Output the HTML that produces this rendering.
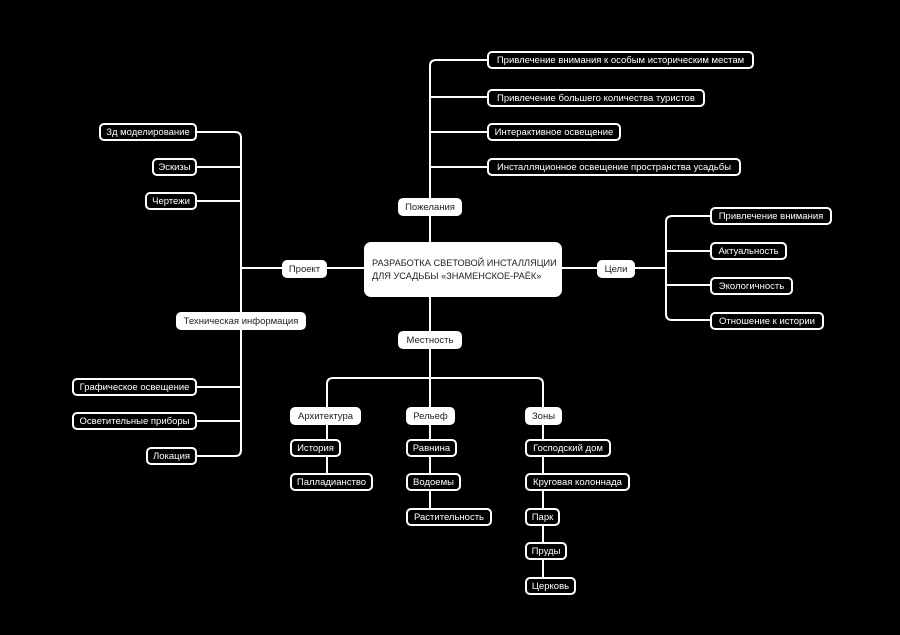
<!DOCTYPE html>
<html><head><meta charset="utf-8"><style>
html,body{margin:0;padding:0;background:#000;}
body{width:900px;height:635px;position:relative;overflow:hidden;font-family:"Liberation Sans","Noto Sans CJK SC",sans-serif;}
.n{position:absolute;box-sizing:border-box;height:18px;border:2px solid #fff;border-radius:5px;color:#fff;background:#000;font-size:9.5px;display:flex;align-items:center;justify-content:center;padding-top:1px;white-space:nowrap;}
.c{background:#fff;color:#222;}
svg{position:absolute;left:0;top:0;}
</style></head><body>
<svg width="900" height="635" fill="none" stroke="#fff" stroke-width="2">
<path d="M196 132 H235 Q241 132 241 138 V450 Q241 456 235 456 H196"/>
<path d="M196 167 H241 M196 201 H241 M196 387 H241 M196 421 H241"/>
<path d="M241 268 H364"/>
<path d="M430 242 V66 Q430 60 436 60 H488"/>
<path d="M430 97 H488 M430 132 H488 M430 167 H488"/>
<path d="M562 268 H666"/>
<path d="M710 216 H672 Q666 216 666 222 V314 Q666 320 672 320 H710"/>
<path d="M666 251 H710 M666 285 H710"/>
<path d="M430 296 V408"/>
<path d="M327 410 V384 Q327 378 333 378 H537 Q543 378 543 384 V410"/>
<path d="M327 420 V480 M430 420 V515 M543 420 V585"/>
</svg>

<div class="n" style="left:99px;top:123px;width:98px">Зд моделирование</div>
<div class="n" style="left:152px;top:158px;width:45px">Эскизы</div>
<div class="n" style="left:145px;top:192px;width:52px">Чертежи</div>
<div class="n c" style="left:282px;top:260px;width:45px">Проект</div>
<div class="n c" style="left:176px;top:312px;width:130px">Техническая информация</div>
<div class="n" style="left:72px;top:378px;width:125px">Графическое освещение</div>
<div class="n" style="left:72px;top:412px;width:125px">Осветительные приборы</div>
<div class="n" style="left:146px;top:447px;width:51px">Локация</div>

<div class="n c" style="left:364px;top:242px;width:198px;height:55px;border-radius:7px;display:block;text-align:left;padding:13px 0 0 6px;line-height:13px;font-size:9.2px">РАЗРАБОТКА СВЕТОВОЙ ИНСТАЛЛЯЦИИ<br>ДЛЯ УСАДЬБЫ «ЗНАМЕНСКОЕ-РАЁК»</div>

<div class="n c" style="left:398px;top:198px;width:64px">Пожелания</div>
<div class="n" style="left:487px;top:51px;width:267px">Привлечение внимания к особым историческим местам</div>
<div class="n" style="left:487px;top:89px;width:218px">Привлечение большего количества туристов</div>
<div class="n" style="left:487px;top:123px;width:134px">Интерактивное освещение</div>
<div class="n" style="left:487px;top:158px;width:254px">Инсталляционное освещение пространства усадьбы</div>

<div class="n c" style="left:597px;top:260px;width:38px">Цели</div>
<div class="n" style="left:710px;top:207px;width:122px">Привлечение внимания</div>
<div class="n" style="left:710px;top:242px;width:77px">Актуальность</div>
<div class="n" style="left:710px;top:277px;width:83px">Экологичность</div>
<div class="n" style="left:710px;top:312px;width:114px">Отношение к истории</div>

<div class="n c" style="left:398px;top:331px;width:64px">Местность</div>
<div class="n c" style="left:290px;top:407px;width:71px">Архитектура</div>
<div class="n c" style="left:406px;top:407px;width:49px">Рельеф</div>
<div class="n c" style="left:525px;top:407px;width:37px">Зоны</div>

<div class="n" style="left:290px;top:439px;width:51px">История</div>
<div class="n" style="left:290px;top:473px;width:83px">Палладианство</div>
<div class="n" style="left:406px;top:439px;width:51px">Равнина</div>
<div class="n" style="left:406px;top:473px;width:55px">Водоемы</div>
<div class="n" style="left:406px;top:508px;width:86px">Растительность</div>
<div class="n" style="left:525px;top:439px;width:86px">Господский дом</div>
<div class="n" style="left:525px;top:473px;width:105px">Круговая колоннада</div>
<div class="n" style="left:525px;top:508px;width:35px">Парк</div>
<div class="n" style="left:525px;top:542px;width:42px">Пруды</div>
<div class="n" style="left:525px;top:577px;width:51px">Церковь</div>
</body></html>
